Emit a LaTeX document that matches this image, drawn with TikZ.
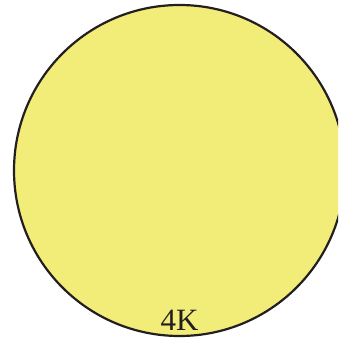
\documentclass[tikz,border=0pt]{standalone}
\usepackage{fontspec}
\setmainfont{Liberation Serif}
\usetikzlibrary{positioning}
\definecolor{fillyel}{HTML}{F2EC78}
\definecolor{ink}{HTML}{231F20}
\tikzset{
  disc/.style={circle,fill=fillyel,draw=ink,line width=2.2pt,minimum size=331pt,inner sep=0pt},
  tag/.style={font=\fontsize{31}{33}\selectfont,text=ink,anchor=base,inner sep=0pt}
}
\begin{document}
\begin{tikzpicture}[x=1pt,y=1pt]
\useasboundingbox (0,0) rectangle (338,342);
\clip (0,0) rectangle (338,342);

% ---------------- disc ---------------------------------------------------
\node[disc] (ball) at (179.5,171.5) {};
\node[tag] (label) at (179.5,11) {4K};

\end{tikzpicture}
\end{document}
